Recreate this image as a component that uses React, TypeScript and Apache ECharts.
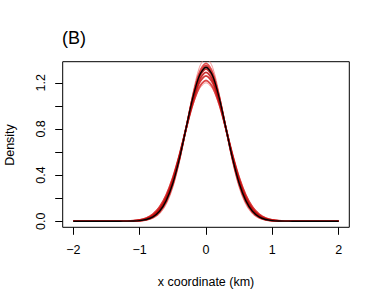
import React, { useEffect, useRef } from "react";
import * as echarts from "echarts";

const X_VALUES = [-2, -1.6, -1.4, -1.3, -1.2, -1.1, -1.0, -0.9, -0.8, -0.7, -0.6, -0.5, -0.4, -0.3, -0.2, -0.1, 0, 0.1, 0.2, 0.3, 0.4, 0.5, 0.6, 0.7, 0.8, 0.9, 1.0, 1.1, 1.2, 1.3, 1.4, 1.6, 2];

const RED_1 = [0, 0, 0, 0.0005, 0.0015, 0.0043, 0.0114, 0.0276, 0.0612, 0.123, 0.227, 0.379, 0.577, 0.801, 1.012, 1.164, 1.22, 1.164, 1.012, 0.801, 0.577, 0.379, 0.227, 0.123, 0.0612, 0.0276, 0.0114, 0.0043, 0.0015, 0.0005, 0, 0, 0];
const RED_2 = [0, 0, 0, 0.0003, 0.001, 0.003, 0.0086, 0.0222, 0.0518, 0.109, 0.209, 0.362, 0.567, 0.804, 1.032, 1.199, 1.26, 1.199, 1.032, 0.804, 0.567, 0.362, 0.209, 0.109, 0.0518, 0.0222, 0.0086, 0.003, 0.001, 0.0003, 0, 0, 0];
const RED_3 = [0, 0, 0, 0.0002, 0.0007, 0.0023, 0.0069, 0.0187, 0.0454, 0.0996, 0.196, 0.349, 0.559, 0.806, 1.047, 1.224, 1.29, 1.224, 1.047, 0.806, 0.559, 0.349, 0.196, 0.0996, 0.0454, 0.0187, 0.0069, 0.0023, 0.0007, 0.0002, 0, 0, 0];
const RED_4 = [0, 0, 0, 0.0001, 0.0005, 0.0018, 0.0055, 0.0157, 0.0397, 0.0903, 0.184, 0.336, 0.55, 0.807, 1.061, 1.25, 1.32, 1.25, 1.061, 0.807, 0.55, 0.336, 0.184, 0.0903, 0.0397, 0.0157, 0.0055, 0.0018, 0.0005, 0.0001, 0, 0, 0];
const RED_5 = [0, 0, 0, 0.0001, 0.0003, 0.0013, 0.0044, 0.0131, 0.0346, 0.0817, 0.172, 0.323, 0.54, 0.806, 1.074, 1.275, 1.35, 1.275, 1.074, 0.806, 0.54, 0.323, 0.172, 0.0817, 0.0346, 0.0131, 0.0044, 0.0013, 0.0003, 0.0001, 0, 0, 0];
const RED_6 = [0, 0, 0, 0.0001, 0.0003, 0.0011, 0.0038, 0.0116, 0.0315, 0.0762, 0.164, 0.314, 0.533, 0.806, 1.082, 1.292, 1.37, 1.292, 1.082, 0.806, 0.533, 0.314, 0.164, 0.0762, 0.0315, 0.0116, 0.0038, 0.0011, 0.0003, 0.0001, 0, 0, 0];
const PINK_LOW = [0, 0, 0, 0.0006, 0.0018, 0.005, 0.013, 0.0308, 0.0663, 0.131, 0.235, 0.387, 0.582, 0.799, 1.001, 1.147, 1.2, 1.147, 1.001, 0.799, 0.582, 0.387, 0.235, 0.131, 0.0663, 0.0308, 0.013, 0.005, 0.0018, 0.0006, 0, 0, 0];
const PINK_HIGH = [0, 0, 0, 0, 0.0002, 0.0007, 0.0025, 0.0084, 0.0247, 0.0638, 0.145, 0.292, 0.515, 0.803, 1.102, 1.333, 1.42, 1.333, 1.102, 0.803, 0.515, 0.292, 0.145, 0.0638, 0.0247, 0.0084, 0.0025, 0.0007, 0.0002, 0, 0, 0, 0];
const BLACK = [0, 0, 0, 0.0001, 0.0004, 0.0015, 0.0049, 0.0143, 0.0371, 0.0859, 0.178, 0.329, 0.545, 0.807, 1.067, 1.262, 1.335, 1.262, 1.067, 0.807, 0.545, 0.329, 0.178, 0.0859, 0.0371, 0.0143, 0.0049, 0.0015, 0.0004, 0.0001, 0, 0, 0];

const X_TICKS = [-2, -1, 0, 1, 2];
const Y_TICKS = [0, 0.2, 0.4, 0.6, 0.8, 1.0, 1.2];
const Y_LABELS = [0, 0.4, 0.8, 1.2];

const FONT = "Liberation Sans, Arial, Helvetica, sans-serif";

function pairs(ys: number[]) {
  return X_VALUES.map((x, i) => [x, ys[i]]);
}

function lineSeries(ys: number[], color: string, width: number) {
  return {
    type: "line",
    data: pairs(ys),
    showSymbol: false,
    smooth: 0.3,
    clip: true,
    lineStyle: { color, width },
    silent: true,
  };
}

export default function App() {
  const ref = useRef<HTMLDivElement>(null);
  useEffect(() => {
    if (!ref.current) return;
    const chart = echarts.init(ref.current, undefined, { renderer: "svg" });
    chart.setOption({
      animation: false,
      backgroundColor: "#ffffff",
      grid: {
        left: 62.7,
        right: 32.7,
        top: 61.7,
        bottom: 78.7,
        show: true,
        borderColor: "#000",
        borderWidth: 1,
        backgroundColor: "transparent",
      },
      xAxis: {
        type: "value",
        min: -2.16,
        max: 2.16,
        axisLine: { show: false, onZero: false },
        splitLine: { show: false },
        axisTick: { show: true, customValues: X_TICKS, length: 7.5, inside: false, lineStyle: { color: "#000", width: 1 } },
        axisLabel: {
          customValues: X_TICKS,
          margin: 16,
          color: "#000",
          fontSize: 12.5,
          fontFamily: FONT,
          formatter: (v: number) => (v < 0 ? "\u2212" + Math.abs(v) : String(v)),
        },
      },
      yAxis: {
        type: "value",
        min: -0.053,
        max: 1.383,
        axisLine: { show: false, onZero: false },
        splitLine: { show: false },
        axisTick: { show: true, customValues: Y_TICKS, length: 7.5, inside: false, lineStyle: { color: "#000", width: 1 } },
        axisLabel: {
          customValues: Y_LABELS,
          rotate: 90,
          margin: 15,
          color: "#000",
          fontSize: 12.5,
          fontFamily: FONT,
          formatter: (v: number) => v.toFixed(1),
        },
      },
      graphic: [
        {
          type: "text",
          style: { text: "(B)", x: 62, y: 38, fill: "#000", fontSize: 18, fontFamily: FONT, textAlign: "left", textVerticalAlign: "middle" },
        },
        {
          type: "text",
          style: { text: "x coordinate (km)", x: 206, y: 282, fill: "#000", fontSize: 12.5, fontFamily: FONT, textAlign: "center", textVerticalAlign: "middle" },
        },
        {
          type: "text",
          x: 9.5,
          y: 145,
          rotation: Math.PI / 2,
          style: { text: "Density", x: 0, y: 0, fill: "#000", fontSize: 12.5, fontFamily: FONT, textAlign: "center", textVerticalAlign: "middle" },
        },
      ],
      series: [
        lineSeries(PINK_LOW, "#f08a8a", 0.9),
        lineSeries(PINK_HIGH, "#f08a8a", 0.9),
        lineSeries(RED_1, "rgba(215,40,40,0.85)", 1.8),
        lineSeries(RED_2, "rgba(200,20,20,0.85)", 1.8),
        lineSeries(RED_3, "rgba(190,10,10,0.85)", 1.8),
        lineSeries(RED_4, "rgba(190,10,10,0.85)", 1.8),
        lineSeries(RED_5, "rgba(205,25,25,0.85)", 1.8),
        lineSeries(RED_6, "rgba(220,50,50,0.85)", 1.6),
        lineSeries(BLACK, "#000000", 1.4),
      ],
    });
    return () => chart.dispose();
  }, []);
  return (
    <div style={{ position: "absolute", left: 0, top: 0 }}>
      <div ref={ref} style={{ width: 382, height: 306 }} />
    </div>
  );
}
